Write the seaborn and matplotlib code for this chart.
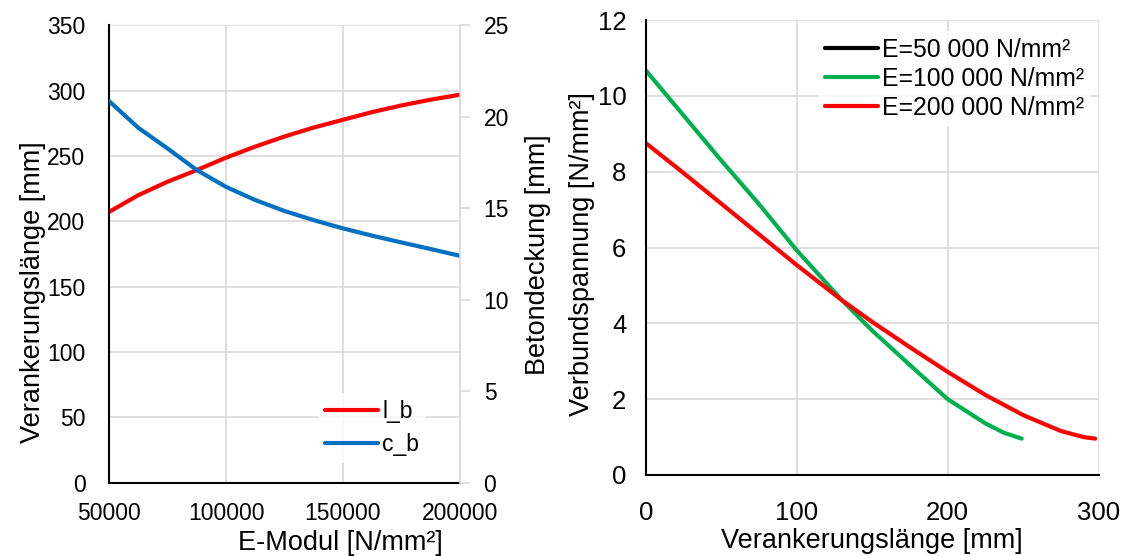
import matplotlib
matplotlib.use("Agg")
import matplotlib.pyplot as plt
import seaborn as sns
import pandas as pd
from matplotlib.lines import Line2D

# --- data: anchorage length and concrete cover vs. E-modulus ---
e_modul = [50000, 62500, 75000, 87500, 100000, 112500, 125000,
           137500, 150000, 162500, 175000, 187500, 200000]
l_b = [207.2, 220.0, 230.3, 239.2, 248.7, 257.2, 264.9,
       271.8, 277.7, 283.6, 288.7, 293.1, 296.9]
c_b = [20.86, 19.40, 18.27, 17.09, 16.17, 15.45, 14.85,
       14.35, 13.90, 13.50, 13.13, 12.77, 12.40]

# --- data: bond stress along the anchorage length ---
x_100k = [0, 25, 50, 75, 100, 130, 150, 175, 200, 225, 237.5, 249]
tau_100k = [10.68, 9.49, 8.30, 7.15, 5.93, 4.61, 3.81, 2.90, 2.00, 1.36, 1.11, 0.96]
x_200k = [0, 25, 50, 75, 100, 130, 150, 175, 200, 225, 250, 275, 290, 297.6]
tau_200k = [8.76, 7.97, 7.16, 6.35, 5.54, 4.61, 4.04, 3.37, 2.72, 2.11, 1.58, 1.16, 1.00, 0.96]
x_50k = []
tau_50k = []

legend_left = ["l_b", "c_b"]
legend_right = ["E=50 000 N/mm²", "E=100 000 N/mm²", "E=200 000 N/mm²"]

RED = "#FF0000"
BLUE = "#0070C0"
GREEN = "#00B050"
GRID = "#D9D9D9"
LW = 3.0

sns.set_theme(style="white")
plt.rcParams["font.family"] = ["Liberation Sans", "DejaVu Sans"]
plt.rcParams["text.color"] = "black"
plt.rcParams["axes.labelcolor"] = "black"
plt.rcParams["xtick.color"] = "black"
plt.rcParams["ytick.color"] = "black"

fig = plt.figure(figsize=(11.26, 5.56), dpi=100)
W, H = 1126, 556


def box(x0, y0, x1, y1):
    return [x0 / W, 1 - y1 / H, (x1 - x0) / W, (y1 - y0) / H]


def fig_xy(x, y):
    return (x / W, 1 - y / H)


TICK_L = 16.5
TICK_R = 18.5
LABEL_FS = 19.5

# ---------------- left panel ----------------
L0, T0, R0, B0 = 109, 25.3, 460, 482.7
ax1 = fig.add_axes(box(L0, T0, R0, B0))
df1 = pd.DataFrame({"E": e_modul, "l_b": l_b, "c_b": c_b})
sns.lineplot(data=df1, x="E", y="l_b", ax=ax1, color=RED, lw=LW, legend=False)
ax1.set_xlim(50000, 200000)
ax1.set_ylim(0, 350)
ax1.set_xticks([50000, 100000, 150000, 200000])
ax1.set_yticks(range(0, 351, 50))
ax1.grid(True, color=GRID, lw=1.2)
ax1.set_axisbelow(True)
for s in ["top", "right"]:
    ax1.spines[s].set_visible(False)
for s in ["left", "bottom"]:
    ax1.spines[s].set_color("black")
    ax1.spines[s].set_linewidth(1.5)
ax1.tick_params(axis="both", length=0, labelsize=TICK_L, colors="black")
ax1.tick_params(axis="y", pad=17)
ax1.tick_params(axis="x", pad=14)
ax1.set_xlabel("E-Modul [N/mm²]", fontsize=LABEL_FS, color="black", va="center")
ax1.set_ylabel("Verankerungslänge [mm]", fontsize=LABEL_FS, color="black", va="center")
ax1.xaxis.set_label_coords((340 - L0) / (R0 - L0), -(543 - B0) / (B0 - T0))
ax1.yaxis.set_label_coords(-(L0 - 33) / (R0 - L0), (B0 - 292) / (B0 - T0))

ax2 = ax1.twinx()
sns.lineplot(data=df1, x="E", y="c_b", ax=ax2, color=BLUE, lw=LW, legend=False)
ax2.set_ylim(0, 25)
ax2.set_yticks(range(0, 26, 5))
ax2.grid(False)
for s in ["top", "left", "bottom"]:
    ax2.spines[s].set_visible(False)
ax2.spines["right"].set_color(GRID)
ax2.spines["right"].set_linewidth(1.2)
ax2.tick_params(axis="y", length=7, width=1.2, color=GRID, labelcolor="black",
                labelsize=TICK_L, pad=10)
ax2.set_ylabel("Betondeckung [mm]", fontsize=LABEL_FS, color="black", va="center")
ax2.yaxis.set_label_coords(1 + (538 - R0) / (R0 - L0), (B0 - 255) / (B0 - T0))

fs_px = TICK_L * 100 / 72
pad = 0.3
handles = [Line2D([], [], color=RED, lw=LW), Line2D([], [], color=BLUE, lw=LW)]
leg1 = fig.legend(handles, legend_left, loc="upper left",
                  bbox_to_anchor=fig_xy(325 - pad * fs_px, 400 - pad * fs_px),
                  frameon=True, fontsize=TICK_L, handlelength=2.3, handletextpad=0.2,
                  labelspacing=0.45, borderpad=pad, borderaxespad=0, fancybox=False,
                  labelcolor="black")
leg1.get_frame().set_facecolor("white")
leg1.get_frame().set_edgecolor("white")
leg1.get_frame().set_linewidth(0)

# ---------------- right panel ----------------
L3, T3, R3, B3 = 645.7, 20.2, 1098.7, 475
ax3 = fig.add_axes(box(L3, T3, R3, B3))
df_50 = pd.DataFrame({"x": x_50k, "tau": tau_50k}, dtype=float)
df_100 = pd.DataFrame({"x": x_100k, "tau": tau_100k})
df_200 = pd.DataFrame({"x": x_200k, "tau": tau_200k})
ax3.plot(df_50["x"], df_50["tau"], color="black", lw=LW)
sns.lineplot(data=df_100, x="x", y="tau", ax=ax3, color=GREEN, lw=LW, sort=False, legend=False)
sns.lineplot(data=df_200, x="x", y="tau", ax=ax3, color=RED, lw=LW, sort=False, legend=False)
ax3.set_xlim(0, 300)
ax3.set_ylim(0, 12)
ax3.set_xticks([0, 100, 200, 300])
ax3.set_yticks(range(0, 13, 2))
ax3.grid(True, color=GRID, lw=1.2)
ax3.set_axisbelow(True)
for s in ["top", "right"]:
    ax3.spines[s].set_visible(False)
for s in ["left", "bottom"]:
    ax3.spines[s].set_color("black")
    ax3.spines[s].set_linewidth(1.5)
ax3.tick_params(axis="both", length=0, labelsize=TICK_R, colors="black")
ax3.tick_params(axis="y", pad=14)
ax3.tick_params(axis="x", pad=19)
ax3.set_xlabel("Verankerungslänge [mm]", fontsize=LABEL_FS, color="black", va="center")
ax3.set_ylabel("Verbundspannung [N/mm²]", fontsize=LABEL_FS, color="black", va="center")
ax3.xaxis.set_label_coords((872 - L3) / (R3 - L3), -(541 - B3) / (B3 - T3))
ax3.yaxis.set_label_coords(-(L3 - 582) / (R3 - L3), (B3 - 254) / (B3 - T3))

LEG_R = 17.8
fs_px3 = LEG_R * 100 / 72
handles3 = [Line2D([], [], color=c, lw=LW) for c in ["black", GREEN, RED]]
leg3 = fig.legend(handles3, legend_right, loc="upper left",
                  bbox_to_anchor=fig_xy(825 - pad * fs_px3, 38 - pad * fs_px3),
                  frameon=True, fontsize=LEG_R, handlelength=2.15, handletextpad=0.15,
                  labelspacing=0.2, borderpad=pad, borderaxespad=0, fancybox=False,
                  labelcolor="black")
leg3.get_frame().set_facecolor("white")
leg3.get_frame().set_edgecolor("white")
leg3.get_frame().set_linewidth(0)

fig.savefig("out.png", dpi=100, facecolor="white")
